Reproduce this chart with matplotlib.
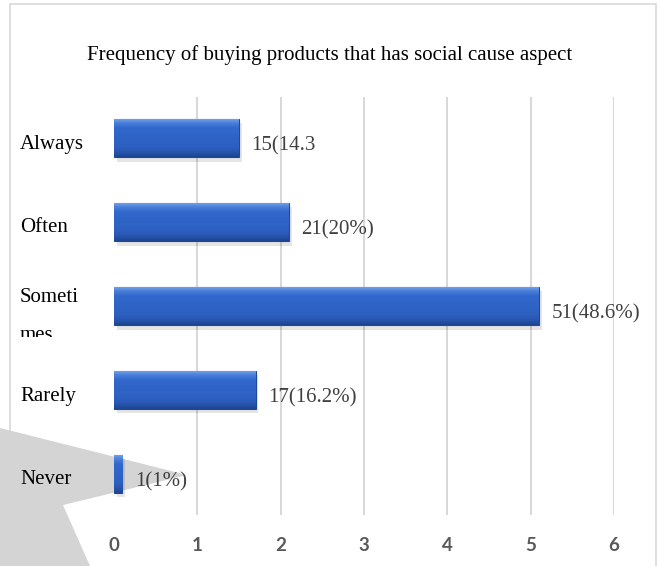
import matplotlib
matplotlib.use("Agg")
import matplotlib.pyplot as plt
import numpy as np
from matplotlib.patches import Rectangle, Polygon
from matplotlib.colors import LinearSegmentedColormap
from matplotlib.transforms import Bbox

categories = ["Always", "Often", "Someti", "Rarely", "Never"]
values = [1.5, 2.1, 5.1, 1.7, 0.1]
bar_labels = ["15(14.3", "21(20%)", "51(48.6%)", "17(16.2%)", "1(1%)"]
xticks = [0, 1, 2, 3, 4, 5, 6]
title = "Frequency of buying products that has social cause aspect"

W, H = 660, 566
fig = plt.figure(figsize=(W / 100, H / 100), dpi=100)
fig.patch.set_facecolor("white")

def fx(px):
    return px / W

def fy(py):
    return 1 - py / H

# outer frame
fig.patches.append(Rectangle((fx(10), fy(570)), fx(656) - fx(10), fy(4) - fy(570),
                             transform=fig.transFigure, fill=False,
                             edgecolor="#D9D9D9", linewidth=1.2, zorder=-2))
# grey shadow shape bottom-left
fig.patches.append(Polygon([(fx(0), fy(428)), (fx(187), fy(475)), (fx(63), fy(505)),
                            (fx(90), fy(566)), (fx(0), fy(566))],
                           closed=True, transform=fig.transFigure,
                           facecolor="#D4D4D4", edgecolor="none", zorder=-1))

ax = fig.add_axes([fx(114), fy(515), fx(614) - fx(114), fy(97) - fy(515)])
ax.set_facecolor("none")
ypos = list(range(len(categories)))

for x in xticks[1:]:
    ax.axvline(x, color="#D9D9D9", linewidth=1.5, zorder=0)

h = 0.46
# soft shadow
ax.barh([y + 0.05 for y in ypos], values, height=h, left=0.03,
        color="#000000", alpha=0.10, linewidth=0, zorder=1)
bars = ax.barh(ypos, values, height=h, color="#2F62C2", edgecolor="#1D4A98",
               linewidth=0.8, zorder=2)

cmap = LinearSegmentedColormap.from_list(
    "bevel", [(0.0, "#7AA6EC"), (0.12, "#4A7FDA"), (0.25, "#3268CC"),
              (0.75, "#2C5FC0"), (0.88, "#2855AE"), (1.0, "#1C4690")])
grad = np.linspace(0, 1, 64).reshape(-1, 1)
for b in bars:
    x0, y0 = b.get_x(), b.get_y()
    w, hh = b.get_width(), b.get_height()
    im = ax.imshow(grad, cmap=cmap, aspect="auto", extent=(x0, x0 + w, y0 + hh, y0),
                   zorder=2.5, interpolation="bilinear")
    im.set_clip_path(b)
ax.set_xlim(0, 6)
ax.set_ylim(4.49, -0.49)

for y, v, lab in zip(ypos, values, bar_labels):
    ax.annotate(lab, xy=(v, y), xytext=(9, -5.5), textcoords="offset points",
                ha="left", va="center", fontsize=15, color="#404040",
                family="Liberation Serif", zorder=4)

ax.set_xticks(xticks)
ax.set_xticklabels([str(t) for t in xticks], fontsize=13.5, fontweight="bold",
                   color="#595959", family="Lato")
ax.tick_params(axis="x", length=0, pad=16)
ax.set_yticks([])
for s in ax.spines.values():
    s.set_visible(False)

# category labels
for y, c in zip(ypos, categories):
    py = 144 + 84 * y
    if c == "Someti":
        py = 298
    fig.text(fx(20), fy(py), c, ha="left", va="center", fontsize=15,
             color="#000000", family="Liberation Serif")
t = fig.text(fx(20), fy(336), "mes", ha="left", va="center", fontsize=15,
             color="#000000", family="Liberation Serif")
t.set_clip_on(True)
t.set_clip_box(Bbox([[0, H - 337], [W, H - 310]]))

fig.text(fx(330), fy(55), title, ha="center", va="center", fontsize=15,
         color="#000000", family="Liberation Serif")

fig.savefig("out.png", dpi=100)
